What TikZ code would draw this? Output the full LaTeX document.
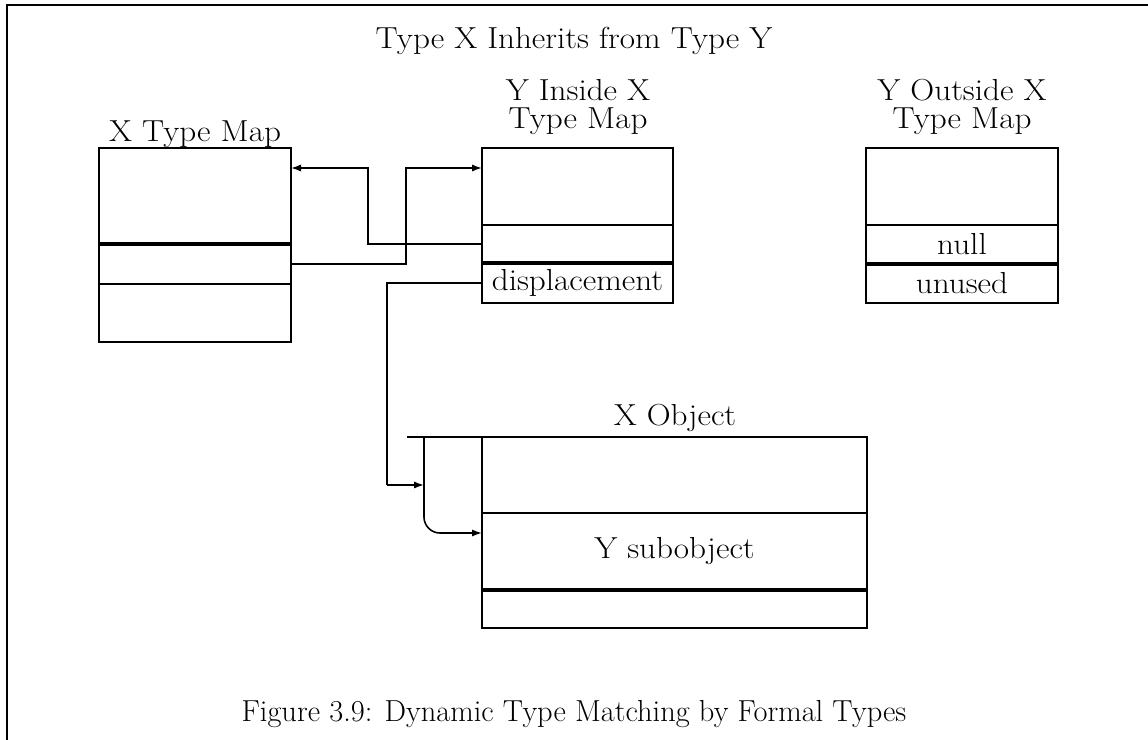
\documentclass[tikz,border=0pt]{standalone}
\usetikzlibrary{arrows.meta}
\newcommand\stretchtxt[1]{\scalebox{1.09}[1]{#1}}
\begin{document}
\begin{tikzpicture}[x=0.5pt,y=-0.5pt,
  lbl/.style={font=\fontsize{15.2}{18.5}\selectfont, inner sep=0pt, anchor=base},
  lbltwo/.style={font=\fontsize{15.2}{14.2}\selectfont, inner sep=0pt, align=center},
  cell/.style={draw, line width=0.8pt, anchor=north west, inner sep=0pt, outer sep=0pt,
    font=\fontsize{15.2}{18.5}\selectfont},
  border/.style={line width=1.3pt},
  divider/.style={line width=1.6pt},
  conn/.style={line width=0.8pt},
  tip/.style={-{Latex[length=5pt,width=3.6pt]}}
]
\useasboundingbox (0,0) rectangle (1148,740);
% frame
\draw[line width=1.3pt] (7,740) -- (7,5) -- (1148,5);

\node[lbl] (title) at (574,48) {\stretchtxt{Type X Inherits from Type Y}};
\node[lbl] (caption) at (574,721) {Figure 3.9: Dynamic Type Matching by Formal Types};

% X Type Map
\node[lbl] (xmlabel) at (195,141) {\stretchtxt{X Type Map}};
\node[cell, minimum width=96pt, minimum height=48pt] (xm1) at (99,148) {};
\node[cell, minimum width=96pt, minimum height=20pt] (xm2) at (99,244) {};
\node[cell, minimum width=96pt, minimum height=29pt] (xm3) at (99,284) {};
\draw[border] (xm1.north west) rectangle (xm3.south east);
\draw[divider] (xm1.south west) -- (xm1.south east);

% Y Inside X Type Map
\node[lbltwo] (yilabel) at (578,107) {\stretchtxt{Y Inside X}\\\stretchtxt{Type Map}};
\node[cell, minimum width=95.5pt, minimum height=38.5pt] (yi1) at (482,148) {};
\node[cell, minimum width=95.5pt, minimum height=19pt] (yi2) at (482,225) {};
\node[cell, minimum width=95.5pt, minimum height=20pt] (yi3) at (482,263) {\stretchtxt{displacement}};
\draw[border] (yi1.north west) rectangle (yi3.south east);
\draw[divider] (yi2.south west) -- (yi2.south east);

% Y Outside X Type Map
\node[lbltwo] (yolabel) at (962,107) {\stretchtxt{Y Outside X}\\\stretchtxt{Type Map}};
\node[cell, minimum width=96pt, minimum height=38.5pt] (yo1) at (866,148) {};
\node[cell, minimum width=96pt, minimum height=19.5pt] (yo2) at (866,225) {\stretchtxt{null}};
\node[cell, minimum width=96pt, minimum height=19.5pt] (yo3) at (866,264) {\stretchtxt{unused}};
\draw[border] (yo1.north west) rectangle (yo3.south east);
\draw[divider] (yo2.south west) -- (yo2.south east);

% X Object
\node[lbl] (xolabel) at (675,425) {\stretchtxt{X Object}};
\node[cell, minimum width=192.5pt, minimum height=38pt] (xo1) at (482,437) {};
\node[cell, minimum width=192.5pt, minimum height=38.5pt] (xo2) at (482,513) {\stretchtxt{Y subobject}};
\node[cell, minimum width=192.5pt, minimum height=19pt] (xo3) at (482,590) {};
\draw[border] (xo1.north west) rectangle (xo3.south east);
\draw[divider] (xo2.south west) -- (xo2.south east);

% connectors
\coordinate (k1) at (368,168);
\coordinate (k2) at (406,168);
\coordinate (k3) at (387,485);
\coordinate (t3) at (424,485);
\coordinate (s4) at (407,437);
\coordinate (v4) at (424,437);
\coordinate (k4) at (424,533);

\draw[conn,tip] (yi2.west) -| (k1) -- (k1 -| xm1.east);
\draw[conn,tip] (xm2.east) -| (k2) -- (k2 -| yi1.west);
\draw[line width=1.3pt] (yi3.west) -| (k3);
\draw[conn,tip] (k3) -- (t3);
\draw[conn] (s4) -- (xo1.north west);
\draw[conn,tip,rounded corners=8pt] (v4) -- (k4) -- (k4 -| xo2.west);
\end{tikzpicture}
\end{document}
